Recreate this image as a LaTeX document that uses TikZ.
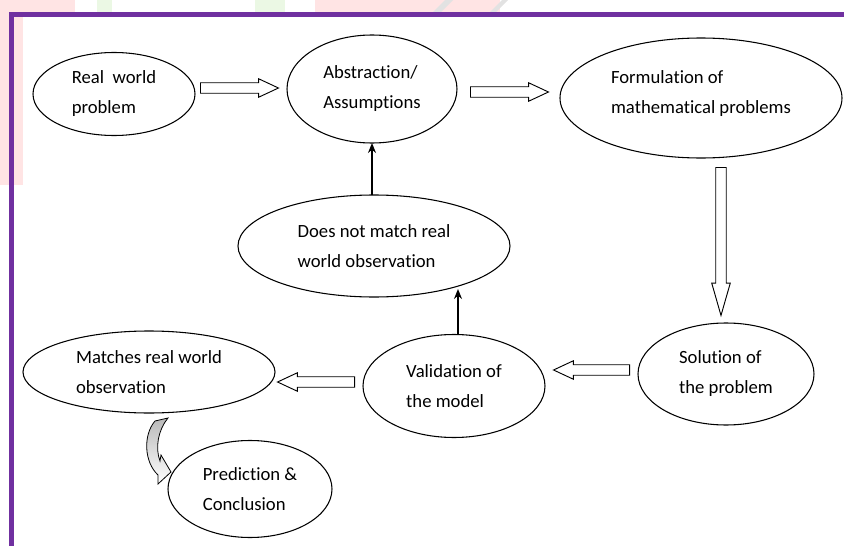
\documentclass[tikz,border=0pt]{standalone}
\usepackage{fontspec}
\setmainfont{Carlito}[Ligatures=NoCommon]
\usetikzlibrary{arrows.meta,shapes.geometric,shapes.arrows,calc}
\definecolor{framepurple}{HTML}{7030A0}
\definecolor{wmpink}{HTML}{FFE4E4}
\definecolor{wmgreen}{HTML}{EBF8E4}
\definecolor{wmgray}{HTML}{E2E2E2}
\tikzset{
    stage/.style={ellipse,draw,line width=0.8pt,inner sep=0pt,outer sep=0pt,align=left,font=\fontsize{14}{22.5}\selectfont},
    blockarr/.style={single arrow,draw,fill=white,line width=0.7pt,inner sep=0pt,inner ysep=3.6pt,single arrow head extend=3pt,single arrow tip angle=50,anchor=tail},
    pre/.style={->,line width=1.1pt,>={Stealth[length=7.5pt,width=6pt]}}
}

\begin{document}
\begin{tikzpicture}[x=0.75pt,y=-0.75pt]

    \useasboundingbox (0,0) rectangle (844,546);

    % faint watermark remains
    \fill[wmpink] (0,0) rectangle (75,12);
    \fill[wmpink] (0,12) rectangle (23,185);
    \fill[wmgreen] (97,0) rectangle (112,12);
    \fill[wmgreen] (255,0) rectangle (285,12);
    \fill[wmpink] (315,0) rectangle (500,12);
    \fill[wmgray] (433,12) -- (445,0) -- (453,0) -- (441,12) -- cycle;
    \fill[wmgray] (490,12) -- (502,0) -- (508,0) -- (496,12) -- cycle;

    \draw[framepurple,line width=3.75pt] (11.5,546) |- (844,14);

    % stages
    \node[stage,minimum width=121.5pt,minimum height=62.25pt] (real)     at (114,94)  {Real~~world\\problem};
    \node[stage,minimum width=127.5pt,minimum height=81pt]    (abstr)    at (372,89)  {Abstraction/\\Assumptions};
    \node[stage,minimum width=211.5pt,minimum height=90pt]    (formul)   at (701,98)  {Formulation of\\mathematical problems\\[-13.5pt]};
    \node[stage,minimum width=204pt,minimum height=76.5pt]    (nomatch)  at (374,246) {Does not match real\\world observation};
    \node[stage,minimum width=132pt,minimum height=76.5pt]    (solution) at (726,374) {Solution of\\the problem};
    \node[stage,minimum width=136.5pt,minimum height=77.25pt] (valid)    at (454,386) {Validation of\\the model};
    \node[stage,minimum width=189pt,minimum height=61.5pt]    (match)    at (149,372) {Matches real world\\observation};
    \node[stage,minimum width=123pt,minimum height=72.75pt]   (predict)  at (250,489) {Prediction \&\\Conclusion};

    % block arrows
    \node[blockarr,minimum height=58.5pt]              (ar1) at ($(real.east)+(5,-6)$)       {};
    \node[blockarr,minimum height=58.5pt]              (ar2) at ($(abstr.east)+(13,3)$)      {};
    \node[blockarr,minimum height=111pt,rotate=-90,
          single arrow tip angle=32]                   (ar3) at ($(formul.south)+(20,9)$)    {};
    \node[blockarr,minimum height=57pt,rotate=180]     (ar4) at ($(solution.west)+(-8,-4)$)  {};
    \node[blockarr,minimum height=57.75pt,rotate=180]  (ar5) at ($(valid.west)+(-8,-4)$)     {};

    % thin arrows
    \draw[pre] (abstr.south |- nomatch.north) -- (abstr.south);
    \draw[pre] ($(valid.north)+(4,0)$) -- ($(valid.north |- nomatch.south)+(4,-8)$);

    % curved arrow to prediction
    \draw[line width=0.6pt,top color=gray!55,bottom color=white]
        (155,421) -- (168,418) .. controls (158,430) and (155,448) .. (160,461)
        -- (161,455) -- (171,472) -- (158,484) -- (158,475)
        .. controls (144,462) and (143,435) .. (155,421) -- cycle;

\end{tikzpicture}
\end{document}
